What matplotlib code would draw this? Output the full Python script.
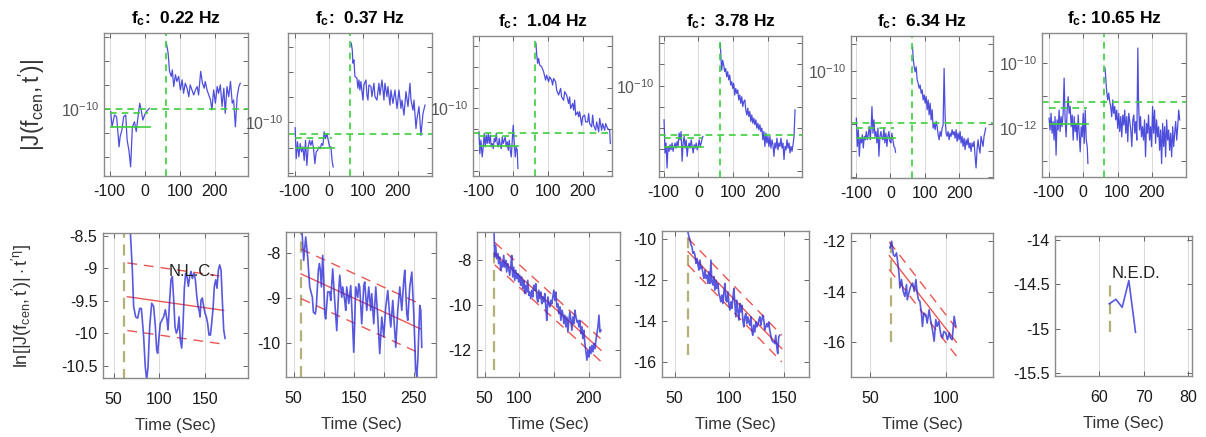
import numpy as np
import matplotlib
matplotlib.use('Agg')
import matplotlib.pyplot as plt
from matplotlib.ticker import NullLocator

plt.rcParams['font.family'] = ['Liberation Sans', 'DejaVu Sans']
plt.rcParams['mathtext.fontset'] = 'custom'
plt.rcParams['mathtext.rm'] = 'Liberation Sans'
plt.rcParams['mathtext.it'] = 'Liberation Sans:italic'
plt.rcParams['mathtext.bf'] = 'Liberation Sans:bold'
plt.rcParams['axes.unicode_minus'] = False

# ---------------- data ----------------
freqs = ['0.22', '0.37', '1.04', '3.78', '6.34', '10.65']
onsets = [61.5, 62.0, 63.0, 62.0, 63.6, 61.6]

# log10 |J| : pre-event window
p1_pre_t = [-97, -93, -86, -80, -73, -70, -65, -60, -54, -50, -45, -40, -35, -29, -24, -20, -14, -10, -5, 0, 5, 14]
p1_pre_v = [-10.11, -10.74, -10.25, -10.32, -11.57, -11.15, -10.88, -10.32, -10.25, -11.29, -11.71, -12.40, -10.74,
            -10.53, -10.94, -10.46, -9.76, -10.04, -10.46, -10.25, -10.11, -9.97]
p1_post_t = [62, 67, 71, 76, 79, 83, 88, 92, 97, 102, 107, 111, 116, 121, 126, 130, 135, 140, 145, 150, 154, 160, 165,
             170, 173, 178, 183, 188, 192, 197, 202, 207, 211, 216, 221, 226, 230, 235, 240, 245, 250, 254, 259, 264, 269, 273]
p1_post_v = [-7.26, -7.68, -8.44, -8.65, -8.38, -9.07, -8.58, -8.86, -8.65, -9.21, -8.79, -9.35, -8.93, -9.14, -9.49,
             -9.00, -9.21, -9.42, -9.21, -9.07, -9.42, -8.44, -8.93, -9.14, -8.86, -9.21, -9.42, -9.63, -10.04, -9.21,
             -9.76, -9.07, -9.35, -9.00, -9.90, -9.14, -10.18, -9.07, -9.49, -8.86, -9.76, -9.63, -10.74, -9.49, -9.07, -8.93]

p2_pre_t = [-98.1, -95.1, -91.3, -87.4, -83.5, -79.6, -75.7, -71.8, -68.0, -64.1, -60.2, -56.3, -52.4, -48.5, -44.7,
            -40.8, -36.9, -33.0, -29.1, -25.2, -21.4, -17.5, -13.6, -9.7, -5.8, -1.9, 1.9, 5.8, 9.7, 12.6]
p2_pre_v = [-10.21, -11.44, -10.77, -11.37, -10.84, -11.17, -10.97, -11.51, -10.71, -11.71, -10.97, -10.71, -10.91,
            -10.71, -11.04, -11.64, -11.17, -11.11, -10.97, -11.04, -10.84, -10.91, -10.37, -10.64, -10.44, -10.71,
            -10.97, -10.97, -11.57, -11.77]
p2_post_t = [65.0, 68.0, 69.9, 72.8, 75.7, 81.6, 84.5, 87.4, 90.3, 93.2, 99.0, 101.9, 107.8, 110.7, 113.6, 116.5, 122.3,
             125.2, 131.1, 134.0, 139.8, 145.6, 148.5, 154.4, 160.2, 163.1, 168.9, 171.8, 177.7, 180.6, 186.4, 192.2,
             198.1, 203.9, 209.7, 212.6, 218.4, 224.3, 230.1, 235.9, 238.8, 244.7, 247.6, 253.4, 256.3, 262.1, 267.9,
             273.8, 279.6]
p2_post_v = [-6.84, -7.11, -7.64, -7.51, -8.17, -8.24, -8.64, -8.31, -8.71, -8.37, -9.11, -8.51, -8.31, -8.91, -9.11,
             -8.51, -8.57, -8.97, -8.44, -8.97, -9.11, -8.44, -8.91, -8.31, -9.11, -8.44, -8.97, -8.57, -9.31, -8.71,
             -9.24, -8.71, -9.44, -8.71, -9.44, -9.11, -9.71, -8.77, -9.37, -8.44, -9.11, -9.51, -9.11, -10.24, -9.84,
             -9.37, -10.51, -9.64, -9.31]

p3_pre_t = [-99.0, -96.2, -93.3, -89.5, -86.6, -83.7, -80.8, -77.9, -75.1, -72.2, -69.3, -66.4, -63.6, -60.7, -57.8,
            -54.9, -52.1, -49.2, -46.3, -43.4, -40.6, -37.7, -34.8, -31.9, -29.1, -26.2, -23.3, -20.4, -17.5, -14.7,
            -11.8, -8.9, -6.0, -3.2, -0.3, 2.6, 5.5, 8.3, 11.2, 13.1]
p3_pre_v = [-11.13, -12.18, -11.53, -12.34, -11.85, -11.21, -11.85, -11.29, -11.69, -11.21, -11.69, -11.29, -11.85,
            -11.69, -11.94, -11.45, -11.61, -11.21, -11.69, -11.85, -11.45, -11.77, -11.94, -11.37, -11.69, -11.53,
            -11.37, -11.85, -11.61, -12.02, -11.53, -12.02, -12.34, -11.53, -10.81, -11.69, -12.34, -11.85, -12.02, -12.90]
p3_post_t = [64.9, 66.8, 69.7, 72.6, 75.5, 81.2, 87.0, 92.7, 95.6, 101.3, 104.2, 110.0, 112.8, 115.7, 121.5, 124.4,
             130.1, 135.9, 138.7, 144.5, 147.4, 153.1, 158.9, 161.7, 164.6, 170.4, 173.2, 176.1, 179.0, 184.8, 187.6,
             190.5, 196.3, 199.1, 204.9, 207.8, 213.5, 216.4, 219.3, 225.0, 227.9, 230.8, 236.5, 239.4, 245.2, 248.0,
             253.8, 256.7, 262.4, 265.3, 271.0, 276.8, 278.7]
p3_post_v = [-6.85, -7.34, -7.82, -7.58, -7.90, -7.98, -8.23, -8.63, -8.39, -8.71, -8.47, -8.63, -8.87, -8.55, -8.71,
             -9.11, -9.35, -9.03, -9.44, -9.60, -9.19, -9.35, -9.76, -9.44, -10.00, -9.76, -10.08, -9.60, -10.32, -10.16,
             -10.40, -10.16, -10.81, -10.40, -10.32, -10.65, -10.65, -10.24, -10.73, -10.89, -10.32, -10.81, -11.05,
             -10.65, -11.13, -10.48, -11.05, -10.73, -11.05, -10.73, -10.97, -11.05, -11.69]

p4_pre_t = [-99.0, -96.1, -93.2, -90.4, -87.5, -84.6, -81.7, -78.8, -75.9, -73.0, -70.1, -67.2, -64.3, -61.4, -58.5,
            -55.6, -52.7, -49.9, -47.0, -44.1, -41.2, -38.3, -35.4, -32.5, -29.6, -26.7, -23.8, -20.9, -18.0, -15.1,
            -12.2, -9.4, -6.5, -3.6, -0.7, 2.2, 5.1, 8.0, 10.9, 12.8]
p4_pre_v = [-11.61, -13.17, -12.70, -13.88, -12.86, -13.09, -12.78, -13.02, -12.70, -13.09, -12.86, -12.70, -12.94,
            -12.63, -12.86, -12.23, -12.55, -12.16, -13.56, -12.70, -12.39, -12.94, -12.55, -13.33, -12.86, -12.70,
            -12.94, -12.55, -12.86, -13.17, -12.78, -12.94, -12.70, -13.02, -12.86, -12.55, -12.86, -12.70, -12.47, -12.39]
p4_post_t = [63.0, 64.9, 66.8, 69.7, 72.6, 75.5, 78.4, 81.3, 84.2, 87.1, 90.0, 92.9, 95.8, 98.7, 101.5, 104.4, 107.3,
             110.2, 113.1, 116.0, 118.9, 121.8, 124.7, 127.6, 130.5, 133.4, 136.3, 139.2, 142.0, 144.9, 147.8, 150.7,
             153.6, 156.5, 159.4, 162.3, 165.2, 168.1, 171.0, 173.9, 176.8, 179.7, 182.5, 185.4, 188.3, 191.2, 194.1,
             197.0, 199.9, 202.8, 205.7, 208.6, 211.5, 214.4, 217.3, 220.2, 223.0, 225.9, 228.8, 231.7, 234.6, 237.5,
             240.4, 243.3, 246.2, 249.1, 252.0, 254.9, 257.8, 260.7, 263.5, 266.4, 269.3, 272.2, 275.1, 278.0]
p4_post_v = [-8.02, -8.72, -9.27, -8.80, -9.03, -9.34, -9.19, -9.58, -9.34, -9.73, -9.50, -9.97, -9.81, -10.13, -9.89,
             -10.44, -10.13, -10.36, -10.20, -10.67, -10.44, -10.83, -10.52, -10.98, -10.75, -10.67, -11.14, -11.38,
             -11.06, -11.45, -11.22, -11.69, -11.38, -11.77, -11.53, -11.84, -11.61, -12.00, -11.77, -12.08, -11.84,
             -12.16, -12.00, -12.55, -12.16, -12.86, -12.23, -12.70, -12.39, -12.86, -12.39, -12.94, -12.55, -12.78,
             -13.33, -12.70, -12.94, -12.47, -13.02, -12.70, -12.86, -12.47, -12.94, -12.70, -13.48, -12.86, -13.02,
             -12.55, -12.94, -12.70, -13.17, -12.86, -13.09, -12.78, -12.39, -11.14]

p5_pre_t = [-99.0, -96.1, -93.2, -90.3, -87.4, -84.5, -81.6, -78.7, -75.8, -72.9, -70.0, -67.1, -64.2, -61.3, -58.4,
            -55.5, -53.5, -50.6, -47.7, -44.8, -41.9, -39.0, -36.1, -33.2, -30.3, -27.4, -24.5, -21.6, -18.7, -15.8,
            -12.9, -10.0, -7.1, -4.2, -1.3, 1.6, 4.5, 7.5, 10.4, 13.3, 15.2]
p5_pre_v = [-11.78, -12.84, -12.21, -13.21, -12.53, -12.71, -12.40, -12.90, -12.46, -12.59, -12.28, -12.59, -12.40,
            -12.09, -12.59, -12.03, -11.34, -12.34, -11.84, -12.46, -12.28, -12.71, -12.15, -13.21, -12.46, -12.28,
            -12.53, -12.59, -12.15, -12.71, -12.34, -12.84, -12.46, -12.28, -12.65, -12.71, -12.34, -12.59, -12.84,
            -12.90, -13.06]
p5_post_t = [64.6, 66.5, 69.4, 72.3, 75.2, 78.1, 81.0, 83.9, 86.8, 89.7, 92.6, 95.5, 98.5, 101.4, 104.3, 107.2, 110.1,
             113.0, 115.9, 118.8, 121.7, 124.6, 127.5, 130.4, 133.3, 136.2, 139.1, 142.0, 144.9, 147.8, 150.7, 153.6,
             156.5, 159.4, 162.3, 165.2, 168.1, 171.1, 174.0, 176.9, 179.8, 182.7, 185.6, 188.5, 191.4, 194.3, 197.2,
             200.1, 203.0, 205.9, 208.8, 211.7, 214.6, 217.5, 220.4, 223.3, 226.2, 229.1, 232.0, 234.9, 237.8, 240.8,
             243.7, 246.6, 249.5, 252.4, 255.3, 258.2, 261.1, 264.0, 266.9, 269.8, 272.7, 275.6, 277.5]
p5_post_v = [-9.09, -9.53, -9.84, -10.03, -9.84, -10.34, -10.46, -10.65, -10.53, -10.84, -10.71, -11.09, -10.90, -11.21,
             -10.96, -11.46, -11.09, -11.65, -11.21, -11.84, -11.46, -12.15, -11.96, -12.21, -11.90, -12.09, -12.40,
             -12.59, -12.28, -12.46, -12.15, -12.03, -9.90, -11.71, -12.34, -12.46, -12.28, -12.59, -12.34, -12.46,
             -12.21, -12.40, -12.28, -12.53, -12.21, -12.65, -12.34, -12.59, -12.28, -12.71, -12.46, -12.84, -12.53,
             -12.96, -12.59, -12.78, -12.53, -12.90, -12.71, -13.03, -12.71, -12.84, -12.65, -13.21, -13.65, -12.96,
             -12.59, -12.90, -13.09, -12.46, -12.65, -12.84, -12.46, -12.28, -12.15]

p6_pre_t = [-99.0, -96.1, -93.2, -90.3, -87.3, -84.4, -81.5, -78.6, -75.7, -72.7, -69.8, -66.9, -64.0, -61.1, -58.1,
            -55.2, -52.3, -49.4, -46.4, -43.5, -40.6, -37.7, -34.8, -31.8, -28.9, -26.0, -23.1, -20.2, -17.2, -14.3,
            -11.4, -8.5, -5.6, -2.6, 0.3, 3.2, 6.1, 9.1, 12.0, 13.9]
p6_pre_v = [-11.69, -12.05, -11.54, -12.15, -11.79, -12.36, -11.64, -12.82, -11.74, -12.05, -11.44, -12.10, -11.64,
            -11.95, -11.54, -10.46, -11.74, -12.26, -11.44, -11.03, -11.54, -11.33, -11.95, -11.59, -12.36, -11.64,
            -12.10, -11.85, -12.36, -11.59, -12.15, -12.72, -11.95, -12.26, -11.54, -12.46, -11.44, -12.36, -12.56, -13.08]
p6_post_t = [63.6, 65.5, 68.5, 71.4, 74.3, 77.2, 80.1, 83.1, 86.0, 88.9, 91.8, 94.7, 97.7, 100.6, 103.5, 106.4, 109.3,
             112.3, 115.2, 118.1, 121.0, 124.0, 126.9, 129.8, 132.7, 135.6, 138.6, 141.5, 144.4, 147.3, 150.2, 153.2,
             156.1, 159.0, 161.0, 163.9, 166.8, 169.7, 172.6, 175.6, 178.5, 181.4, 184.3, 187.2, 190.2, 193.1, 196.0,
             198.9, 201.9, 204.8, 207.7, 210.6, 213.5, 216.5, 219.4, 222.3, 225.2, 228.1, 231.1, 234.0, 236.9, 239.8,
             242.7, 245.7, 248.6, 251.5, 254.4, 257.3, 260.3, 263.2, 266.1, 269.0, 272.0, 274.9, 277.8, 280.7]
p6_post_v = [-10.15, -10.41, -10.87, -11.13, -10.92, -11.18, -11.33, -11.64, -11.13, -11.54, -11.33, -11.74, -11.44,
             -12.00, -11.54, -12.10, -11.64, -12.26, -11.59, -11.90, -11.44, -12.15, -11.64, -12.41, -11.54, -11.79,
             -12.05, -12.56, -11.74, -11.59, -12.15, -11.79, -12.36, -9.54, -11.13, -12.05, -11.64, -12.26, -11.95,
             -12.36, -11.74, -12.87, -11.85, -12.15, -11.59, -12.36, -11.95, -12.56, -11.33, -12.15, -11.44, -12.46,
             -11.74, -12.26, -11.95, -12.67, -12.05, -13.08, -11.85, -12.56, -11.95, -12.87, -11.74, -12.36, -12.05,
             -12.67, -12.15, -12.87, -11.95, -12.56, -12.15, -11.79, -12.36, -11.95, -11.44, -11.74]

# noise statistics (log10): threshold (full width), upper band, mean
thresholds = [-10.00, -10.47, -11.18, -12.34, -11.96, -11.20]
bands = [-10.18, -10.61, -11.34, -12.47, -12.13, -11.38]
means = [-10.74, -11.00, -11.81, -12.89, -12.53, -11.87]

# ln[|J| t^eta] after onset
q1_t = [68.2, 70.4, 71.8, 74.0, 76.2, 78.4, 80.2, 81.3, 82.7, 84.5, 86.0, 87.5, 89.3, 91.5, 93.6, 95.5, 96.9, 98.0,
        99.5, 100.9, 102.7, 104.5, 106.4, 108.2, 109.3, 110.7, 112.5, 114.0, 115.5, 116.9, 118.4, 119.8, 121.3, 122.7,
        124.2, 125.6, 127.1, 128.5, 130.0, 131.5, 132.9, 134.4, 135.8, 137.6, 139.1, 140.5, 142.0, 143.5, 144.2, 145.3,
        146.7, 148.2, 149.6, 151.1, 152.5, 154.0, 155.5, 156.9, 158.4, 159.8, 161.3, 162.7, 164.2, 165.6, 167.1, 168.5,
        170.0, 171.5]
q1_v = [-8.44, -9.03, -9.59, -9.75, -9.77, -9.62, -9.62, -9.80, -10.05, -10.52, -10.72, -10.52, -9.90, -9.54, -9.59,
        -9.90, -10.26, -10.31, -10.05, -9.85, -9.80, -9.75, -9.64, -9.80, -9.95, -9.59, -9.18, -9.13, -9.49, -9.90,
        -10.00, -9.95, -9.75, -10.11, -10.23, -9.90, -9.31, -9.08, -9.13, -9.28, -9.13, -9.05, -9.16, -9.08, -9.18,
        -9.41, -9.59, -9.67, -9.75, -9.49, -9.46, -9.59, -9.69, -9.75, -9.85, -10.03, -10.03, -9.85, -9.62, -9.28,
        -9.18, -9.31, -9.03, -8.95, -9.03, -9.49, -9.95, -10.08]
q2_t = [63.9, 66.7, 70.0, 73.3, 76.7, 81.1, 82.8, 86.1, 87.8, 91.1, 92.8, 94.4, 96.1, 98.3, 100.0, 101.7, 103.3, 106.7,
        110.0, 111.7, 115.0, 118.3, 121.7, 125.0, 126.7, 130.0, 131.7, 135.0, 136.7, 138.3, 141.7, 145.0, 148.3, 150.0,
        151.7, 153.3, 156.7, 158.3, 160.0, 163.3, 166.7, 168.3, 171.7, 175.0, 178.3, 180.0, 183.3, 186.7, 190.0, 193.3,
        196.7, 200.0, 203.3, 206.7, 210.0, 211.7, 215.0, 220.0, 223.3, 226.7, 230.0, 233.3, 235.0, 238.3, 240.0, 243.3,
        246.7, 250.0, 253.3, 255.0, 256.7, 260.0, 261.7, 263.3]
q2_v = [-7.54, -8.17, -7.65, -8.10, -8.76, -8.99, -9.32, -9.36, -9.17, -8.39, -8.24, -8.39, -8.76, -8.06, -8.61, -9.36,
        -9.47, -8.87, -8.87, -9.06, -8.36, -9.06, -9.73, -8.84, -8.50, -8.99, -8.76, -9.06, -9.28, -8.76, -9.13, -8.73,
        -9.65, -10.21, -9.50, -8.76, -8.99, -8.69, -8.76, -9.58, -8.73, -8.65, -9.28, -8.76, -9.28, -8.91, -9.58, -8.76,
        -9.43, -10.24, -9.43, -9.87, -9.21, -8.84, -9.43, -9.65, -9.06, -10.10, -9.28, -8.76, -9.28, -8.61, -8.39,
        -9.36, -9.50, -8.76, -8.43, -9.36, -10.61, -10.76, -10.39, -9.17, -9.28, -10.10]
q3_t = [63.5, 64.4, 65.9, 67.3, 68.8, 70.2, 71.6, 73.1, 74.5, 76.0, 77.4, 78.8, 80.3, 81.7, 83.2, 84.6, 86.1, 87.5, 88.9,
        90.4, 91.8, 93.3, 94.7, 96.2, 97.6, 99.0, 100.5, 101.9, 103.4, 104.8, 106.3, 107.7, 109.1, 110.6, 112.0, 113.5,
        114.9, 116.3, 117.8, 119.2, 120.7, 122.1, 123.6, 125.0, 126.4, 127.9, 129.3, 130.8, 132.2, 133.7, 135.1, 136.5,
        138.0, 139.4, 140.9, 142.3, 143.8, 145.2, 146.6, 148.1, 149.5, 151.0, 152.4, 153.8, 155.3, 156.7, 158.2, 159.6,
        161.1, 162.5, 163.9, 165.4, 166.8, 168.3, 169.7, 171.2, 172.6, 174.0, 175.5, 176.9, 178.4, 179.8, 181.3, 182.7,
        184.1, 185.6, 187.0, 188.5, 189.9, 191.3, 192.8, 194.2, 195.7, 197.1, 198.6, 200.0, 201.4, 202.9, 204.3, 205.8,
        207.2, 208.7, 210.1, 211.5, 213.0, 214.4, 215.9, 217.3]
q3_v = [-6.74, -7.85, -7.33, -7.93, -7.70, -8.15, -7.85, -8.44, -8.07, -8.30, -7.78, -8.30, -8.00, -8.52, -8.15, -8.37,
        -8.67, -8.30, -7.78, -8.74, -8.30, -8.89, -8.44, -8.81, -8.59, -8.96, -8.67, -9.11, -8.74, -9.26, -8.89, -9.48,
        -9.11, -9.41, -8.89, -9.56, -9.41, -9.70, -9.33, -9.63, -9.11, -9.33, -9.04, -9.63, -9.85, -9.33, -9.70, -9.41,
        -9.93, -9.63, -9.85, -9.48, -10.07, -10.67, -9.63, -9.93, -10.07, -9.78, -9.93, -9.63, -9.33, -9.78, -9.41,
        -10.07, -9.93, -10.37, -10.07, -10.67, -10.22, -10.37, -10.81, -10.44, -10.96, -10.52, -11.19, -10.67, -10.30,
        -10.67, -11.11, -10.52, -10.81, -10.22, -10.52, -10.74, -10.67, -10.96, -10.67, -11.26, -10.96, -11.48, -11.11,
        -11.70, -12.07, -12.44, -12.00, -12.30, -11.85, -12.15, -11.78, -12.07, -11.70, -11.93, -11.56, -11.26, -10.96,
        -10.44, -11.19, -11.11]
q4_t = [62.2, 63.1, 64.0, 64.9, 65.8, 66.7, 67.6, 68.5, 69.5, 70.4, 71.3, 72.2, 73.1, 74.0, 74.9, 75.8, 76.7, 77.7, 78.6,
        79.5, 80.4, 81.3, 82.2, 83.1, 84.0, 85.0, 85.9, 86.8, 87.7, 88.6, 89.5, 90.4, 91.3, 92.2, 93.2, 94.1, 95.0, 95.9,
        96.8, 97.7, 98.6, 99.5, 100.5, 101.4, 102.3, 103.2, 104.1, 105.0, 105.9, 106.8, 107.8, 108.7, 109.6, 110.5,
        111.4, 112.3, 113.2, 114.1, 115.0, 116.0, 116.9, 117.8, 118.7, 119.6, 120.5, 121.4, 122.3, 123.3, 124.2, 125.1,
        126.0, 126.9, 127.8, 128.7, 129.6, 130.5, 131.5, 132.4, 133.3, 134.2, 135.1, 136.0, 136.9, 137.8, 138.8, 139.7,
        140.6, 141.5, 142.4, 143.3, 144.2, 145.1, 146.0]
q4_v = [-9.69, -9.89, -10.05, -10.29, -10.38, -10.70, -10.62, -10.78, -11.19, -10.95, -11.27, -11.52, -11.03, -11.44,
        -11.35, -11.68, -11.92, -11.52, -11.92, -11.76, -12.17, -11.60, -12.17, -11.03, -12.09, -12.25, -11.84, -12.50,
        -12.01, -12.41, -12.17, -12.66, -12.82, -13.07, -12.74, -13.15, -12.58, -12.17, -12.99, -13.07, -12.58, -13.15,
        -13.47, -13.07, -13.39, -12.90, -12.41, -13.15, -13.80, -12.99, -13.56, -13.96, -13.15, -13.56, -13.23, -13.96,
        -14.29, -13.80, -13.64, -14.13, -13.80, -14.05, -14.21, -13.80, -14.45, -14.70, -14.21, -14.54, -14.05, -14.29,
        -14.21, -13.96, -13.80, -14.21, -13.96, -13.72, -13.96, -14.45, -14.29, -14.13, -14.29, -14.05, -14.45, -14.70,
        -14.94, -15.02, -15.02, -15.11, -14.70, -15.27, -15.60, -14.78, -14.70]
q5_t = [63.2, 64.3, 65.4, 66.4, 67.5, 68.6, 69.3, 69.7, 70.8, 71.9, 73.0, 74.1, 74.6, 75.9, 76.8, 78.1, 79.2, 80.3, 81.1,
        82.0, 82.9, 84.0, 84.6, 85.5, 86.8, 87.7, 89.0, 89.9, 91.2, 92.3, 93.4, 94.3, 95.4, 96.5, 97.8, 98.7, 100.0,
        101.1, 102.2, 103.1, 104.2, 105.5, 106.6]
q5_v = [-12.26, -12.00, -12.53, -12.60, -12.46, -12.99, -13.39, -13.85, -13.52, -13.99, -14.19, -13.72, -14.32, -13.99,
        -13.79, -13.66, -13.99, -13.52, -14.05, -14.32, -14.38, -14.91, -15.38, -14.85, -14.91, -15.25, -14.72, -15.11,
        -15.51, -15.97, -15.11, -15.38, -15.18, -15.64, -15.84, -15.58, -15.64, -15.91, -15.64, -15.84, -15.91, -14.98,
        -15.38]
q6_t = [62.2, 63.7, 65.1, 66.6, 68.1]
q6_v = [-14.72, -14.67, -14.76, -14.46, -15.04]

# exponential-decay fits: [t_start, t_end], [ln value at start, end], half-width of band
fit_t = [[65.0, 170.0], [62.2, 261.0], [64.4, 217.3], [62.2, 147.9], [62.7, 107.0], None]
fit_v = [[-9.44, -9.65], [-8.47, -9.69], [-7.70, -12.00], [-10.62, -15.35], [-12.57, -16.01], None]
fit_w = [0.52, 0.55, 0.50, 0.65, 0.55, None]
onset_span = [[-10.72, -8.46], [-10.76, -7.54], [-12.9, -7.3], [-15.68, -9.72], [-16.0, -12.0], [-15.04, -14.46]]
notes = ['N.L.C.', None, None, None, None, 'N.E.D.']
note_xy = [(135.8, -9.05), None, None, None, None, (68.3, -14.38)]

# ---------------- layout ----------------
W, H = 1206, 437
top_boxes = [(104, 33, 248, 176), (288, 33, 432, 176), (473, 36, 612, 176),
             (659, 36, 802, 177), (851, 36, 993, 178), (1042, 33, 1186, 177)]
bot_boxes = [(103, 233, 248, 378), (286, 232, 436, 377), (477, 232, 620, 377),
             (662, 231, 809, 377), (851, 233, 993, 377), (1055, 236, 1192, 376)]
top_xlim = [(-116, 295), (-119, 300), (-116, 283.5), (-113.5, 298), (-114.5, 298.8), (-119.5, 299)]
top_ylim = [(-12.78, -6.85), (-12.13, -6.44), (-13.26, -6.50), (-14.30, -7.66), (-14.03, -8.68), (-13.49, -9.08)]
top_yticks = [range(-12, -6), range(-12, -6), range(-13, -6), range(-14, -7), range(-14, -8), range(-13, -9)]
top_ylabels = [[-10], [-10], [-10], [-10], [-10], [-10, -12]]
bot_xlim = [(38.4, 196.5), (37.2, 287), (39, 244.7), (38.4, 172.8), (37.5, 131.1), (50, 80.8)]
bot_ylim = [(-10.69, -8.46), (-10.76, -7.54), (-13.19, -6.74), (-16.74, -9.61), (-17.39, -11.67), (-15.53, -13.96)]
bot_xticks = [[50, 100, 150], [50, 100, 150, 200, 250], [50, 100, 150, 200], [50, 100, 150], [50, 100], [50, 60, 70, 80]]
bot_xlabels = [['50', '100', '150'], ['50', '', '150', '', '250'], ['50', '100', '', '200'], ['50', '100', '150'],
               ['50', '100'], ['', '60', '70', '80']]
bot_yticks = [[-10.5, -10, -9.5, -9, -8.5], [-10, -9, -8], [-12, -10, -8], [-16, -14, -12, -10], [-16, -14, -12],
              [-15.5, -15, -14.5, -14]]

pre_t = [p1_pre_t, p2_pre_t, p3_pre_t, p4_pre_t, p5_pre_t, p6_pre_t]
pre_v = [p1_pre_v, p2_pre_v, p3_pre_v, p4_pre_v, p5_pre_v, p6_pre_v]
post_t = [p1_post_t, p2_post_t, p3_post_t, p4_post_t, p5_post_t, p6_post_t]
post_v = [p1_post_v, p2_post_v, p3_post_v, p4_post_v, p5_post_v, p6_post_v]
ln_t = [q1_t, q2_t, q3_t, q4_t, q5_t, q6_t]
ln_v = [q1_v, q2_v, q3_v, q4_v, q5_v, q6_v]

BLUE = '#2f2fd8'
GREEN = '#3ccf3c'
RED = '#e8433f'
OLIVE = '#b4b07a'
AX = '#8a8a8a'


def add_ax(fig, box):
    l, t, r, b = box
    return fig.add_axes([l / W, 1 - b / H, (r - l) / W, (b - t) / H])


def style(ax, xpad):
    for s in ax.spines.values():
        s.set_color(AX)
        s.set_linewidth(1.0)
    ax.tick_params(which='both', direction='in', top=True, right=True, length=3.5, width=0.7,
                   color='#666666', labelsize=11.5, labelcolor='#1a1a1a')
    ax.tick_params(axis='x', pad=xpad)
    ax.xaxis.grid(True, color='#dcdcdc', lw=0.8)
    ax.set_axisbelow(True)


fig = plt.figure(figsize=(W / 100, H / 100), dpi=100)

for i in range(6):
    # ---------- top row ----------
    ax = add_ax(fig, top_boxes[i])
    style(ax, 6)
    ax.set_yscale('log')
    ax.set_xlim(*top_xlim[i])
    ax.set_ylim(10.0 ** top_ylim[i][0], 10.0 ** top_ylim[i][1])
    ax.plot(pre_t[i], 10.0 ** np.array(pre_v[i]), color=BLUE, lw=0.9, alpha=0.85)
    ax.plot(post_t[i], 10.0 ** np.array(post_v[i]), color=BLUE, lw=0.9, alpha=0.85)
    ax.axhline(10.0 ** thresholds[i], color=GREEN, lw=1.2, ls=(0, (4, 3)))
    ax.plot([-100, 10], [10.0 ** bands[i]] * 2, color=GREEN, lw=1.2, ls=(0, (4, 3)))
    ax.plot([-97, 14], [10.0 ** means[i]] * 2, color=GREEN, lw=1.2)
    ax.axvline(onsets[i], color=GREEN, lw=1.2, ls=(0, (4, 3)))
    ax.set_xticks([-100, 0, 100, 200])
    ax.set_xticklabels(['-100', '0', '100', '200'])
    ticks = list(top_yticks[i])
    ax.set_yticks([10.0 ** k for k in ticks])
    ax.set_yticklabels([r'$\mathregular{10^{%d}}$' % k if k in top_ylabels[i] else '' for k in ticks],
                       color='#555555', fontsize=11.5)
    ax.yaxis.set_minor_locator(NullLocator())
    ax.tick_params(axis='y', pad=3)
    ax.set_title(r'$\mathbf{f_c}$:' + ('  ' if i < 5 else ' ') + freqs[i] + ' Hz',
                 fontsize=12.5, fontweight='bold', pad=7)

    # ---------- bottom row ----------
    bx = add_ax(fig, bot_boxes[i])
    style(bx, 10)
    bx.set_xlim(*bot_xlim[i])
    bx.set_ylim(*bot_ylim[i])
    bx.set_xticks(bot_xticks[i])
    bx.set_xticklabels(bot_xlabels[i])
    bx.set_yticks(bot_yticks[i])
    bx.set_yticklabels(['%g' % v for v in bot_yticks[i]])
    bx.tick_params(axis='y', pad=4)
    bx.plot([onsets[i] if i != 5 else 62.3] * 2, onset_span[i], color=OLIVE, lw=1.6, ls=(0, (5, 3)))
    if fit_t[i] is not None:
        ft = fit_t[i]
        fv = np.array(fit_v[i])
        bx.plot(ft, fv, color=RED, lw=1.0, alpha=0.9)
        bx.plot(ft, fv + fit_w[i], color=RED, lw=1.0, alpha=0.9, ls=(0, (7, 5)))
        bx.plot(ft, fv - fit_w[i], color=RED, lw=1.0, alpha=0.9, ls=(0, (7, 5)))
    bx.plot(ln_t[i], ln_v[i], color=BLUE, lw=1.2, alpha=0.8)
    if notes[i]:
        bx.text(note_xy[i][0], note_xy[i][1], notes[i], ha='center', va='center', fontsize=12, color='#222222')
    bx.set_xlabel('Time (Sec)', fontsize=12, color='#333333', labelpad=8)

fig.text(32 / W, 1 - 105 / H, r"$\mathrm{|J(f_{cen},t')|}$", rotation=90, ha='center', va='center',
         fontsize=16.5, color='#333333')
fig.text(22 / W, 1 - 306 / H, r"$\mathrm{ln[|J(f_{cen},t')|\cdot t'^{\eta}]}$", rotation=90, ha='center',
         va='center', fontsize=13, color='#333333')

fig.savefig('out.png', dpi=100)
